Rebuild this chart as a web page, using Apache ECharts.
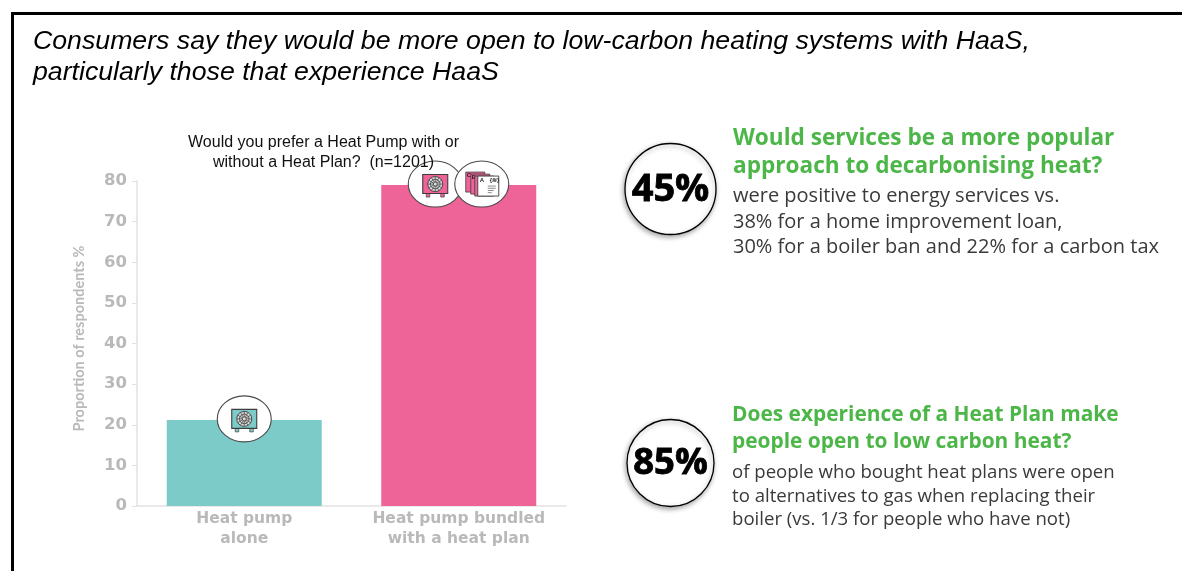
<!DOCTYPE html>
<html>
<head>
<meta charset="utf-8">
<style>html,body{margin:0;padding:0;background:#fff}#chart{width:1182px;height:571px}</style>
<script src="https://cdn.jsdelivr.net/npm/echarts@6/dist/echarts.min.js"></script>
</head>
<body>
<div id="chart"></div>
<script>
// Preference for a heat pump with or without a heat plan
const categories = ['Heat pump\nalone', 'Heat pump bundled\nwith a heat plan'];
const shares = [21.2, 79];
const barColors = ['#7ccbc9', '#ee6398'];
const yTicks = { min: 0, max: 80, interval: 10 };
const yAxisName = 'Proportion of respondents %';
const headline = 'Consumers say they would be more open to low-carbon heating systems with HaaS,\nparticularly those that experience HaaS';
const question = 'Would you prefer a Heat Pump with or\nwithout a Heat Plan?  (n=1201)';

// Icon badges sitting on the bar tops: [category, value, sideways shift, kind]
const badges = [
  [0, 21.2, 0, 'pump'],
  [1, 79, -23.5, 'pump'],
  [1, 79, 23, 'plan']
];

const callouts = [
  {
    figure: '45%',
    heading: ['Would services be a more popular', 'approach to decarbonising heat?'],
    body: ['were positive to energy services vs.', '38% for a home improvement loan,', '30% for a boiler ban and 22% for a carbon tax']
  },
  {
    figure: '85%',
    heading: ['Does experience of a Heat Plan make', 'people open to low carbon heat?'],
    body: ['of people who bought heat plans were open', 'to alternatives to gas when replacing their', 'boiler (vs. 1/3 for people who have not)']
  }
];

const calloutLayout = [
  { cx: 670.5, cy: 189, r: 45.5, figSize: 38, x: 733, headY: [139, 167], bodyY: [196, 222, 247], headSize: 22.6, bodySize: 20 },
  { cx: 670.5, cy: 463, r: 43.5, figSize: 36.5, x: 732, headY: [415, 442], bodyY: [473, 497, 520], headSize: 20.9, bodySize: 18.6 }
];

const AXIS_GREY = '#b9b9b9';
const LINE_GREY = '#e2e2e2';
const INK = '#3a3a3a';
const SPOKES = 12;

function pumpIcon(x, y, fill) {
  const ink = '#3d3d3d';
  const parts = [
    { type: 'rect', shape: { x: x - 9, y: y + 9, width: 3.5, height: 4 }, style: { fill: fill, stroke: ink, lineWidth: 0.7 } },
    { type: 'rect', shape: { x: x + 5.5, y: y + 9, width: 3.5, height: 4 }, style: { fill: fill, stroke: ink, lineWidth: 0.7 } },
    { type: 'rect', shape: { x: x - 12.5, y: y - 9.5, width: 25, height: 19 }, style: { fill: fill, stroke: ink, lineWidth: 1.1 } },
    { type: 'circle', shape: { cx: x, cy: y, r: 7.5 }, style: { fill: '#dcdcdc', stroke: ink, lineWidth: 0.9 } },
    { type: 'circle', shape: { cx: x, cy: y, r: 4.8 }, style: { fill: 'none', stroke: ink, lineWidth: 0.8 } },
    { type: 'circle', shape: { cx: x, cy: y, r: 2 }, style: { fill: '#dcdcdc', stroke: ink, lineWidth: 0.8 } }
  ];
  for (let k = 0; k < SPOKES; k++) {
    const a = k * 2 * Math.PI / SPOKES;
    parts.push({
      type: 'line',
      shape: { x1: x + 2 * Math.cos(a), y1: y + 2 * Math.sin(a), x2: x + 7.5 * Math.cos(a), y2: y + 7.5 * Math.sin(a) },
      style: { stroke: ink, lineWidth: 0.7 }
    });
  }
  return parts;
}

function planIcon(x, y, fill) {
  const ink = '#3d3d3d';
  const sheet = (dx, dy) => ({
    type: 'rect',
    shape: { x: x + dx, y: y + dy, width: 19, height: 20 },
    style: { fill: fill, stroke: ink, lineWidth: 0.8 }
  });
  const rule = (dy, w) => ({
    type: 'line',
    shape: { x1: x + 6, y1: y + dy, x2: x + 6 + w, y2: y + dy },
    style: { stroke: '#8a8a8a', lineWidth: 1 }
  });
  const letter = (dx, dy, t) => ({
    type: 'text',
    style: { x: x + dx, y: y + dy, text: t, font: 'bold 6px "Liberation Sans"', fill: '#222' }
  });
  return [
    sheet(-16, -12),
    letter(-15, -12, 'C'),
    sheet(-11, -10),
    letter(-10, -10, 'B'),
    sheet(-7, -8),
    { type: 'rect', shape: { x: x - 4, y: y - 8, width: 21, height: 20 }, style: { fill: '#fff', stroke: ink, lineWidth: 0.9 } },
    letter(-2, -7, 'A'),
    letter(8, -7, '{≋}'),
    rule(2, 8), rule(4.2, 8), rule(6.4, 6), rule(8.6, 4)
  ];
}

// Badge positions come from the value scale, so they follow the bar tops
function renderBadge(params, api) {
  const kind = badges[params.dataIndex][3];
  const catIndex = api.value(0);
  const at = api.coord([catIndex, api.value(1)]);
  const x = at[0] + api.value(2);
  const y = at[1] - 1;
  const fill = barColors[catIndex];
  const outline = {
    type: 'ellipse',
    shape: { cx: x, cy: y, rx: 27, ry: 23 },
    style: { fill: '#fff', stroke: '#4a4a4a', lineWidth: 1.1 }
  };
  const glyphs = kind === 'pump' ? pumpIcon(x, y, fill) : planIcon(x, y, fill);
  return { type: 'group', children: [outline].concat(glyphs) };
}

function calloutGraphics() {
  const out = [];
  callouts.forEach((c, i) => {
    const p = calloutLayout[i];
    out.push({
      type: 'circle', z: 5,
      shape: { cx: p.cx, cy: p.cy, r: p.r },
      style: { fill: '#fff', stroke: '#000', lineWidth: 1.3, shadowBlur: 5, shadowColor: 'rgba(0,0,0,0.35)', shadowOffsetX: -1, shadowOffsetY: 2 }
    });
    out.push({
      type: 'text', z: 6,
      style: { x: p.cx, y: p.cy + 1, text: c.figure, align: 'center', verticalAlign: 'middle', font: 'bold ' + p.figSize + 'px "Open Sans"', fill: '#000', stroke: '#000', lineWidth: 0.8 }
    });
    c.heading.forEach((t, j) => out.push({
      type: 'text', z: 6,
      style: { x: p.x, y: p.headY[j], text: t, verticalAlign: 'middle', font: 'bold ' + p.headSize + 'px "Open Sans"', fill: '#4cb748' }
    }));
    c.body.forEach((t, j) => out.push({
      type: 'text', z: 6,
      style: { x: p.x, y: p.bodyY[j], text: t, verticalAlign: 'middle', font: p.bodySize + 'px "Open Sans"', fill: INK }
    }));
  });
  return out;
}

const chart = echarts.init(document.getElementById('chart'), null, { renderer: 'canvas' });
chart.setOption({
  animation: false,
  backgroundColor: '#fff',
  title: [
    {
      text: headline, left: 33, top: 26, padding: 0,
      textStyle: { fontFamily: 'Liberation Sans', fontStyle: 'italic', fontWeight: 'normal', fontSize: 26.7, lineHeight: 31, color: '#000' }
    },
    {
      text: question, left: 323.5, top: 133, padding: 0, textAlign: 'center',
      textStyle: { fontFamily: 'Liberation Sans', fontWeight: 'normal', fontSize: 16, lineHeight: 20, color: '#111', align: 'center' }
    }
  ],
  grid: { left: 137, top: 181, width: 429, height: 325, containLabel: false },
  xAxis: {
    type: 'category',
    data: categories,
    axisLine: { lineStyle: { color: LINE_GREY, width: 1.5 } },
    axisTick: { show: false },
    axisLabel: { color: AXIS_GREY, fontFamily: 'DejaVu Sans', fontWeight: 'bold', fontSize: 15.5, lineHeight: 20, margin: 3, interval: 0 }
  },
  yAxis: {
    type: 'value',
    min: yTicks.min, max: yTicks.max, interval: yTicks.interval,
    name: yAxisName,
    nameLocation: 'middle',
    nameGap: 50,
    nameTextStyle: { color: AXIS_GREY, fontFamily: 'Lato', fontWeight: 'bold', fontSize: 14.5, padding: [0, 0, 0, 10] },
    axisLine: { show: true, lineStyle: { color: LINE_GREY, width: 1.5 } },
    axisTick: { show: true, length: 5, lineStyle: { color: LINE_GREY } },
    axisLabel: { color: AXIS_GREY, fontFamily: 'DejaVu Sans', fontWeight: 'bold', fontSize: 16.5, margin: 10 },
    splitLine: { show: false }
  },
  series: [
    {
      type: 'bar',
      barWidth: 155,
      data: shares.map((v, i) => ({ value: v, itemStyle: { color: barColors[i] } }))
    },
    {
      type: 'custom',
      z: 4,
      renderItem: renderBadge,
      encode: { x: 0, y: 1 },
      data: badges.map(b => b.slice(0, 3))
    }
  ],
  graphic: [
    {
      type: 'polyline', z: 10,
      shape: { points: [[12.5, 571], [12.5, 13.5], [1182, 13.5]] },
      style: { stroke: '#000', lineWidth: 3, fill: 'none' }
    }
  ].concat(calloutGraphics())
});
</script>
</body>
</html>
